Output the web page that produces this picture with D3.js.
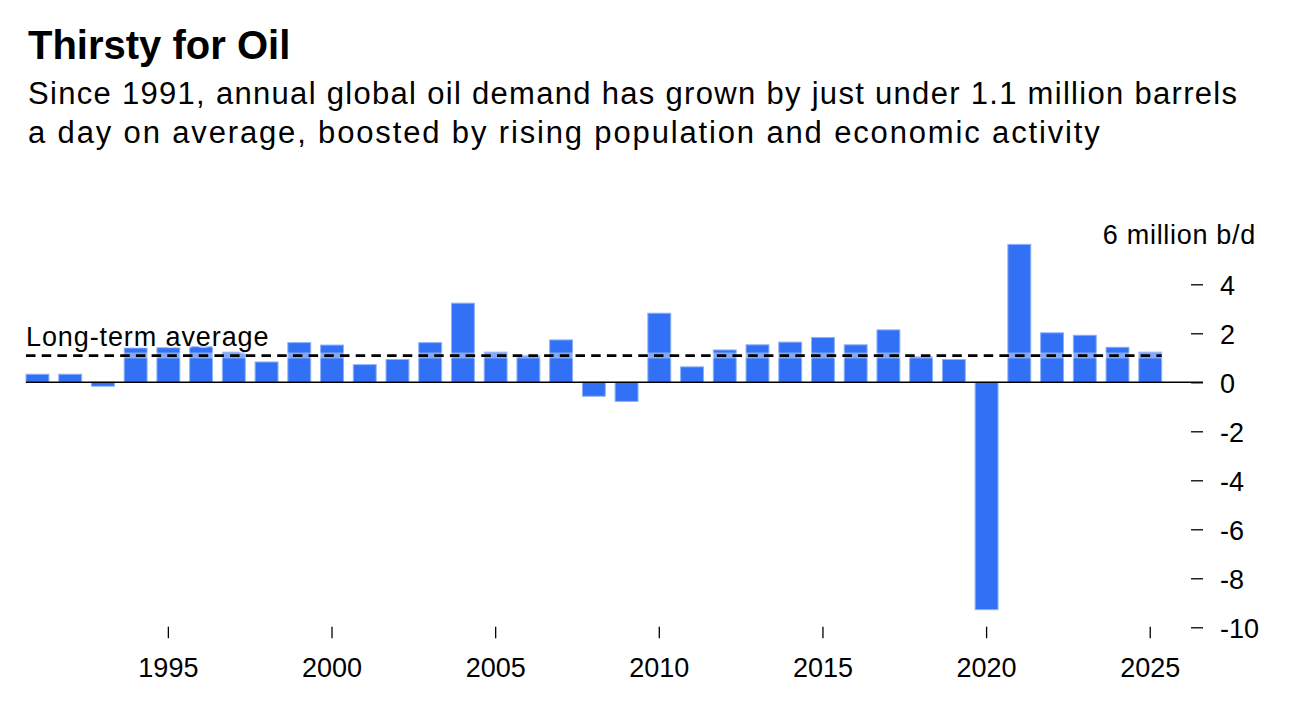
<!DOCTYPE html>
<html lang="en">
<head>
    <meta charset="UTF-8">
    <title>Thirsty for Oil</title>
    <script src="https://d3js.org/d3.v7.min.js"></script>
    <style>
        body {
            margin: 0;
            background: #fff;
            font-family: "Liberation Sans", Arial, sans-serif;
        }
        .tick line {
            stroke: #000;
            stroke-width: 1.3;
        }
        .tick text {
            font-size: 27px;
            fill: #000;
        }
    </style>
</head>
<body>
    <div id="chart"></div>

    <script>
        // Data: yearly change in global oil demand, million b/d
        const years = d3.range(1991, 2026);
        const demandChange = [
            0.33, 0.33, -0.16, 1.4, 1.41, 1.45, 1.23, 0.83, 1.62, 1.52,
            0.72, 0.93, 1.62, 3.23, 1.23, 1.1, 1.73, -0.57, -0.78, 2.82,
            0.63, 1.32, 1.53, 1.64, 1.83, 1.53, 2.14, 1.05, 0.93, -9.28,
            5.63, 2.02, 1.92, 1.43, 1.23
        ];
        const longTermAverage = 1.09;
        const xTickYears = [1995, 2000, 2005, 2010, 2015, 2020, 2025];
        const yTickValues = [4, 2, 0, -2, -4, -6, -8, -10];

        const title = "Thirsty for Oil";
        const subtitle = [
            "Since 1991, annual global oil demand has grown by just under 1.1 million barrels",
            "a day on average, boosted by rising population and economic activity"
        ];

        const W = 1308, H = 724;
        const data = years.map((y, i) => ({ year: y, value: demandChange[i] }));

        const svg = d3.select("#chart")
            .append("svg")
            .attr("width", W)
            .attr("height", H);

        // Titel en ondertitel
        svg.append("text")
            .attr("x", 28)
            .attr("y", 59)
            .attr("font-size", 40)
            .attr("font-weight", "bold")
            .text(title);

        const subSpacing = [1.3, 1.85];
        svg.selectAll("text.sub")
            .data(subtitle)
            .enter().append("text")
            .attr("class", "sub")
            .attr("x", 28)
            .attr("y", (d, i) => 104 + i * 38.5)
            .attr("font-size", 31)
            .attr("letter-spacing", (d, i) => subSpacing[i])
            .text(d => d);

        // Schalen
        const x = d3.scaleBand()
            .domain(years)
            .range([21.1, 1166.6])
            .paddingInner(0.3)
            .paddingOuter(0.15);

        const y = d3.scaleLinear()
            .domain([-10, 6])
            .range([627.3, 235.3]);

        // Staven
        svg.append("g")
            .selectAll("rect")
            .data(data)
            .enter().append("rect")
            .attr("x", d => x(d.year))
            .attr("y", d => y(Math.max(0, d.value)))
            .attr("width", x.bandwidth())
            .attr("height", d => Math.abs(y(d.value) - y(0)))
            .attr("fill", "#3271f5")
            .attr("stroke", "#8eb1f8")
            .attr("stroke-width", 1);

        // Nullijn
        svg.append("line")
            .attr("x1", 26)
            .attr("x2", 1203)
            .attr("y1", y(0))
            .attr("y2", y(0))
            .attr("stroke", "#000")
            .attr("stroke-width", 1.5);

        // Gemiddelde lijn met lichte halo
        const avgY = y(longTermAverage);
        svg.append("line")
            .attr("x1", 26)
            .attr("x2", x(2025) + x.bandwidth())
            .attr("y1", avgY)
            .attr("y2", avgY)
            .attr("stroke", "#fff")
            .attr("stroke-opacity", 0.4)
            .attr("stroke-width", 6);

        svg.append("line")
            .attr("x1", 26)
            .attr("x2", x(2025) + x.bandwidth())
            .attr("y1", avgY)
            .attr("y2", avgY)
            .attr("stroke", "#000")
            .attr("stroke-width", 2.6)
            .attr("stroke-dasharray", "9.5,6.2");

        svg.append("text")
            .attr("x", 26)
            .attr("y", avgY - 10)
            .attr("font-size", 27)
            .attr("letter-spacing", 0.9)
            .attr("stroke", "#fff")
            .attr("stroke-opacity", 0.5)
            .attr("stroke-width", 4)
            .attr("paint-order", "stroke")
            .text("Long-term average");

        // X-as
        const xAxis = svg.append("g")
            .attr("transform", `translate(0,${y(-10) - 0.6})`)
            .call(d3.axisBottom(x).tickValues(xTickYears).tickSize(11.5).tickPadding(19));
        xAxis.select(".domain").remove();
        xAxis.selectAll(".tick text").attr("dy", "0.72em");

        // Y-as (met gewoon koppelteken als minteken)
        const yAxis = svg.append("g")
            .attr("transform", "translate(1191,0)")
            .call(d3.axisRight(y)
                .tickValues(yTickValues)
                .tickFormat(d => String(d))
                .tickSize(12)
                .tickPadding(17));
        yAxis.select(".domain").remove();
        yAxis.selectAll(".tick line").attr("stroke-width", 1.6);
        yAxis.selectAll(".tick text").attr("dy", "0.36em");

        svg.append("text")
            .attr("x", 1256)
            .attr("y", y(6) + 9)
            .attr("text-anchor", "end")
            .attr("font-size", 27)
            .attr("letter-spacing", 0.7)
            .text("6 million b/d");
    </script>
</body>
</html>
